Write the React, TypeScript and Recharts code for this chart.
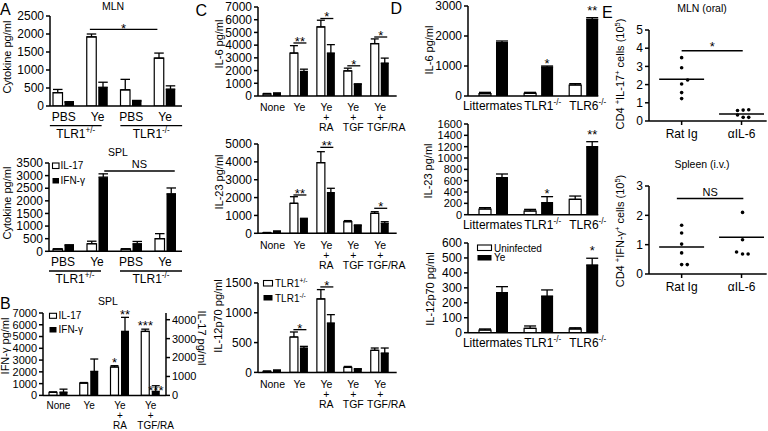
import React from 'react';
import {
  BarChart, Bar, XAxis, YAxis, ErrorBar, ReferenceLine, ReferenceDot,
  ScatterChart, Scatter,
} from 'recharts';

const FONT = '"Liberation Sans", Arial, Helvetica, sans-serif';

// ================= DATA =================
// Panel A – MLN
const aTreatments = ['PBS', 'Ye', 'PBS', 'Ye'];
const aGenotypes = ['TLR1^{+/-}', 'TLR1^{-/-}'];
const aMlnIL17 = [370, 1920, 450, 1330];
const aMlnIL17Err = [90, 80, 290, 140];
const aMlnIFNg = [110, 520, 140, 470];
const aMlnIFNgErr = [10, 140, 15, 90];
const aMlnTicks = [0, 500, 1000, 1500, 2000, 2500];
const aMlnSig = [{ from: [1, 'w'], to: [3, 'w'], y: 2130, text: '*' }];
// Panel A – SPL
const aSplIL17 = [90, 300, 90, 500];
const aSplIL17Err = [10, 100, 10, 200];
const aSplIFNg = [230, 2940, 300, 2280];
const aSplIFNgErr = [30, 130, 90, 230];
const aSplTicks = [0, 500, 1000, 1500, 2000, 2500, 3000, 3500];
const aSplSig = [{ from: [1, 'b'], to: [3, 'b'], y: 3183, text: 'NS' }];

// Panel B – SPL, dual axis
const bTreatments = ['None', 'Ye', 'Ye\n+\nRA', 'Ye\n+\nTGF/RA'];
const bIL17 = [160, 650, 1500, 3380];
const bIL17Err = [25, 30, 70, 120];
const bIFNg = [280, 2040, 5440, 340];
const bIFNgErr = [250, 1050, 1190, 480];
const bIFNgTicks = [0, 1000, 2000, 3000, 4000, 5000, 6000, 7000];
const bIL17Ticks = [0, 1000, 2000, 3000, 4000];
const bStars = [
  { at: [2, 'w'], y: 3033, text: '*' },
  { at: [2, 'b'], y: 7136, text: '**' },
  { at: [3, 'w'], y: 6150, text: '***' },
  { at: [3, 'b'], y: 700, text: '***' },
];

// Panel C – TLR1+/- vs TLR1-/-
const cTreatments = ['None', 'Ye', 'Ye\n+\nRA', 'Ye\n+\nTGF', 'Ye\n+\nTGF/RA'];
const cIL6Het = [160, 3380, 5430, 1980, 4120];
const cIL6HetErr = [40, 580, 530, 210, 370];
const cIL6Ko = [210, 1930, 3380, 920, 2590];
const cIL6KoErr = [30, 180, 660, 40, 390];
const cIL6Ticks = [0, 1000, 2000, 3000, 4000, 5000, 6000, 7000];
const cIL6Sig = [
  { from: [1, 'w'], to: [1, 'b'], y: 4170, text: '**' },
  { from: [2, 'w'], to: [2, 'b'], y: 6095, text: '*' },
  { from: [3, 'w'], to: [3, 'b'], y: 2375, text: '*' },
  { from: [4, 'w'], to: [4, 'b'], y: 4640, text: '*' },
];
const cIL23Het = [37, 1680, 3955, 650, 1120];
const cIL23HetErr = [10, 370, 615, 60, 90];
const cIL23Ko = [112, 800, 2276, 430, 560];
const cIL23KoErr = [15, 40, 244, 40, 90];
const cIL23Ticks = [0, 1000, 2000, 3000, 4000, 5000];
const cIL23Sig = [
  { from: [1, 'w'], to: [1, 'b'], y: 2145, text: '**' },
  { from: [2, 'w'], to: [2, 'b'], y: 4813, text: '**' },
  { from: [4, 'w'], to: [4, 'b'], y: 1400, text: '*' },
];
const cIL12Het = [17, 594, 1232, 84, 370];
const cIL12HetErr = [5, 84, 157, 16, 39];
const cIL12Ko = [34, 409, 829, 56, 325];
const cIL12KoErr = [6, 28, 140, 6, 84];
const cIL12Ticks = [0, 500, 1000, 1500];
const cIL12Sig = [
  { from: [1, 'w'], to: [1, 'b'], y: 717, text: '*' },
  { from: [2, 'w'], to: [2, 'b'], y: 1434, text: '*' },
];

// Panel D – Uninfected vs Ye
const dGroups = ['Littermates', 'TLR1^{-/-}', 'TLR6^{-/-}'];
const dIL6Un = [78, 89, 367];
const dIL6UnErr = [44, 33, 44];
const dIL6Ye = [1778, 967, 2556];
const dIL6YeErr = [55, 33, 55];
const dIL6Ticks = [0, 1000, 2000, 3000];
const dIL6Stars = [{ at: [1, 'b'], y: 1189, text: '*' }, { at: [2, 'b'], y: 2944, text: '**' }];
const dIL23Un = [100, 65, 271];
const dIL23UnErr = [24, 29, 58];
const dIL23Ye = [653, 212, 1200];
const dIL23YeErr = [65, 106, 88];
const dIL23Ticks = [0, 200, 400, 600, 800, 1000, 1200, 1400, 1600];
const dIL23Stars = [{ at: [1, 'b'], y: 424, text: '*' }, { at: [2, 'b'], y: 1465, text: '**' }];
const dIL12Un = [18, 29, 25];
const dIL12UnErr = [7, 16, 8];
const dIL12Ye = [268, 245, 453];
const dIL12YeErr = [40, 41, 45];
const dIL12Ticks = [0, 100, 200, 300, 400, 500, 600];
const dIL12Stars = [{ at: [2, 'b'], y: 571, text: '*' }];

// Panel E – scatter
const eGroups = ['Rat Ig', 'αIL-6'];
const eMlnRatIg = [3.48, 2.93, 2.25, 2.03, 1.56, 1.23];
const eMlnRatIgJitter = [0, 0, 0.1, 0, 0, 0];
const eMlnAnti = [0.58, 0.6, 0.62, 0.33, 0.2, 0.2];
const eMlnAntiJitter = [-0.067, 0.027, 0.12, -0.067, 0.027, 0.12];
const eMlnMedian = [2.29, 0.38];
const eMlnTicks = [0, 1, 2, 3, 4, 5];
const eMlnSig = { from: 0, to: 1.02, y: 3.86, text: '*' };
const eSplRatIg = [1.66, 1.4, 1.02, 0.72, 0.32, 0.32];
const eSplRatIgJitter = [0, 0, 0, 0, 0, 0.094];
const eSplAnti = [2.1, 1.17, 0.75, 0.68, 0.68];
const eSplAntiJitter = [0.017, 0.017, -0.083, 0.017, 0.11];
const eSplMedian = [0.92, 1.25];
const eSplTicks = [0, 1, 2, 3];
const eSplSig = { from: -0.08, to: 1.03, y: 2.57, text: 'NS' };

// ================= LAYOUT / STYLE =================
const YW = 44;
const MT = 22;
const XH = 44;
const AX = { stroke: '#000', strokeWidth: 1.5 };
const tickFont = (size: number) => ({ fill: '#000', fontSize: size, fontFamily: FONT });

function rich(str: string, size: number) {
  const parts = str.split(/(\^\{[^}]*\})/).filter((s) => s.length > 0);
  let raised = false;
  const up = size * 0.4;
  return parts.map((p, i) => {
    if (p.startsWith('^{')) {
      const t = <tspan key={i} dy={raised ? 0 : -up} fontSize={size * 0.68}>{p.slice(2, -1)}</tspan>;
      raised = true;
      return t;
    }
    const t = <tspan key={i} dy={raised ? up : 0}>{p}</tspan>;
    raised = false;
    return t;
  });
}

function annText(cx: number, cy: number, text: string, mode: 'line' | 'center', gap = 4.5) {
  const isStar = text.indexOf('*') >= 0;
  const size = isStar ? 13 : 11;
  let y;
  if (isStar) y = mode === 'line' ? cy - gap + 7.4 : cy + 7.4;
  else y = cy - 3;
  return (
    <text x={cx} y={y} textAnchor="middle" fontSize={size} fontFamily={FONT} fill="#000">{text}</text>
  );
}

function BarPanel(props: any) {
  const {
    geo, categories, white, whiteErr, black, blackErr, yMax, yTicks, barSize, barGap,
    tick, sigs = [], stars = [], right, sigExt = [0, 0], starGap = 4.5, mr = 6, yFont = 12,
  } = props;
  const { axisX, plotRight, plotTop, plotBottom, padL = 0, padR = 0 } = geo;
  const RW = right ? 38 : 0;
  const plotW = plotRight - axisX;
  const width = YW + plotW + RW + mr;
  const height = MT + (plotBottom - plotTop) + XH;
  const n = categories.length;
  const band = (plotW - padL - padR) / n;
  const half = (barSize + barGap) / 2 / band;
  const bx = (g: number, s: string) => g + 0.5 + (s === 'w' ? -half : half);
  const data = categories.map((c: string, i: number) => ({
    cat: c, idx: i + 0.5,
    w: white[i], we: [0, whiteErr[i]],
    b: black[i], be: [0, blackErr[i]],
  }));
  const ann: any[] = [];
  sigs.forEach((s: any, k: number) => {
    const x1 = bx(s.from[0], s.from[1]) + sigExt[0] / band;
    const x2 = bx(s.to[0], s.to[1]) + sigExt[1] / band;
    ann.push(
      <ReferenceLine key={'sl' + k} xAxisId="n" yAxisId="l" segment={[{ x: x1, y: s.y }, { x: x2, y: s.y }]}
        stroke="#000" strokeWidth={1.3} ifOverflow="visible" />
    );
    ann.push(
      <ReferenceDot key={'st' + k} xAxisId="n" yAxisId="l" x={(x1 + x2) / 2} y={s.y} r={0} ifOverflow="visible"
        shape={(pp: any) => annText(pp.cx, pp.cy, s.text, 'line', starGap)} />
    );
  });
  stars.forEach((s: any, k: number) => {
    ann.push(
      <ReferenceDot key={'sd' + k} xAxisId="n" yAxisId="l" x={bx(s.at[0], s.at[1])} y={s.y} r={0} ifOverflow="visible"
        shape={(pp: any) => annText(pp.cx, pp.cy, s.text, 'center')} />
    );
  });
  const capW = barSize / 2;
  return (
    <div style={{ position: 'absolute', left: axisX - YW, top: plotTop - MT, width, height }}>
      <BarChart width={width} height={height} data={data} margin={{ top: MT, right: mr, bottom: 0, left: 0 }}
        barSize={barSize} barGap={barGap}>
        <XAxis xAxisId="c" dataKey="cat" height={XH} padding={{ left: padL, right: padR }} axisLine={AX}
          tickLine={false} tickSize={0} tickMargin={0} interval={0} stroke="#000"
          tick={(p: any) => tick(p, band)} />
        <XAxis xAxisId="n" type="number" dataKey="idx" domain={[0, n]} allowDataOverflow hide
          padding={{ left: padL, right: padR }} />
        <YAxis yAxisId="l" width={YW} domain={[0, yMax]} ticks={yTicks} allowDataOverflow interval={0}
          axisLine={AX} tickLine={AX} tickSize={4} tickMargin={2} tick={tickFont(yFont)} stroke="#000" />
        {right && (
          <YAxis yAxisId="r" orientation="right" width={RW} domain={[0, right.max]} ticks={right.ticks}
            allowDataOverflow interval={0} axisLine={AX} tickLine={AX} tickSize={4} tickMargin={2}
            tick={tickFont(yFont)} stroke="#000" />
        )}
        <Bar xAxisId="c" yAxisId={right ? 'r' : 'l'} dataKey="w" fill="#fff" stroke="#000" strokeWidth={1.2}
          isAnimationActive={false}>
          <ErrorBar dataKey="we" direction="y" width={capW} stroke="#000" strokeWidth={1.3} />
        </Bar>
        <Bar xAxisId="c" yAxisId="l" dataKey="b" fill="#000" isAnimationActive={false}>
          <ErrorBar dataKey="be" direction="y" width={capW} stroke="#000" strokeWidth={1.3} />
        </Bar>
        {ann}
      </BarChart>
    </div>
  );
}

// ---- tick renderers ----
const A_SPANS = [[-14, 4], [-11, 17]];
const groupTick = (p: any, band: number) => {
  const { x, y, index, payload } = p;
  let extra = null;
  if (index % 2 === 0) {
    const g = index / 2;
    const x1 = x + A_SPANS[g][0];
    const x2 = x + band + A_SPANS[g][1];
    extra = (
      <g>
        <line x1={x1} x2={x2} y1={y + 19.7} y2={y + 19.7} stroke="#000" strokeWidth={1.3} />
        <text x={(x1 + x2) / 2} y={y + 32} textAnchor="middle" fontSize={12} fontFamily={FONT} fill="#000">
          {rich(aGenotypes[g], 12)}
        </text>
      </g>
    );
  }
  return (
    <g>
      <text x={x} y={y + 15} textAnchor="middle" fontSize={12} fontFamily={FONT} fill="#000">{payload.value}</text>
      {extra}
    </g>
  );
};
const linesTick = (first: number, lh: number, size: number, longShift: number) => (p: any) => {
  const { x, y, payload } = p;
  const lines = String(payload.value).split('\n');
  return (
    <g>
      {lines.map((ln, k) => (
        <text key={k} x={x + (ln.length > 4 ? longShift : 0)} y={y + first + k * lh} textAnchor="middle"
          fontSize={size} fontFamily={FONT} fill="#000">
          {rich(ln, size)}
        </text>
      ))}
    </g>
  );
};
const D_DX = [-1, 4, 4];

function ScatterPanel(props: any) {
  const { geo, yMax, yTicks, ratIg, ratIgJit, anti, antiJit, medians, sig, starGap = 7 } = props;
  const { axisX, plotRight, plotTop, plotBottom } = geo;
  const EXH = 30;
  const plotW = plotRight - axisX;
  const width = YW + plotW + 1;
  const height = MT + (plotBottom - plotTop) + EXH;
  const ptsA = ratIg.map((v: number, i: number) => ({ x: 0 + ratIgJit[i], y: v }));
  const ptsB = anti.map((v: number, i: number) => ({ x: 1 + antiJit[i], y: v }));
  const dot = (pp: any) => <circle cx={pp.cx} cy={pp.cy} r={1.8} fill="#000" />;
  const HW = 0.375;
  return (
    <div style={{ position: 'absolute', left: axisX - YW, top: plotTop - MT, width, height }}>
      <ScatterChart width={width} height={height} margin={{ top: MT, right: 1, bottom: 0, left: 0 }}>
        <XAxis type="number" dataKey="x" domain={[-0.545, 1.42]} ticks={[0, 1]} allowDataOverflow height={EXH}
          axisLine={AX} tickLine={AX} tickSize={4} tickMargin={0} interval={0} stroke="#000"
          tick={(p: any) => (
            <text x={p.x} y={p.y + 13} textAnchor="middle" fontSize={12} fontFamily={FONT} fill="#000">
              {eGroups[Math.round(p.payload.value)]}
            </text>
          )} />
        <YAxis type="number" dataKey="y" width={YW} domain={[0, yMax]} ticks={yTicks} allowDataOverflow interval={0}
          axisLine={AX} tickLine={AX} tickSize={4} tickMargin={2} tick={tickFont(12)} stroke="#000" />
        <Scatter data={ptsA} shape={dot} isAnimationActive={false} />
        <Scatter data={ptsB} shape={dot} isAnimationActive={false} />
        {medians.map((m: number, g: number) => (
          <ReferenceLine key={'m' + g} segment={[{ x: g - HW, y: m }, { x: g + HW, y: m }]} stroke="#000"
            strokeWidth={1.5} ifOverflow="visible" />
        ))}
        <ReferenceLine segment={[{ x: sig.from, y: sig.y }, { x: sig.to, y: sig.y }]} stroke="#000"
          strokeWidth={1.5} ifOverflow="visible" />
        <ReferenceDot x={(sig.from + sig.to) / 2} y={sig.y} r={0} ifOverflow="visible"
          shape={(pp: any) => annText(pp.cx, pp.cy, sig.text, 'line', starGap)} />
      </ScatterChart>
    </div>
  );
}

const GEO = {
  aMln: { axisX: 50, plotRight: 182, plotTop: 16, plotBottom: 106, padL: -3, padR: 0 },
  aSpl: { axisX: 49, plotRight: 182, plotTop: 162.7, plotBottom: 251, padL: -3, padR: 0 },
  b: { axisX: 43, plotRight: 166, plotTop: 313.3, plotBottom: 395.7 },
  cIL6: { axisX: 258.3, plotRight: 397, plotTop: 7, plotBottom: 96, padL: 1, padR: 3 },
  cIL23: { axisX: 258.3, plotRight: 397, plotTop: 144, plotBottom: 233.3, padL: 1, padR: 3 },
  cIL12: { axisX: 258.3, plotRight: 397, plotTop: 283.3, plotBottom: 372.7, padL: 1, padR: 3 },
  dIL6: { axisX: 467.7, plotRight: 598, plotTop: 5.5, plotBottom: 95.5, padL: 3, padR: -8 },
  dIL23: { axisX: 467.7, plotRight: 598, plotTop: 124, plotBottom: 214.7, padL: 3, padR: -8 },
  dIL12: { axisX: 467.7, plotRight: 598, plotTop: 243, plotBottom: 332.7, padL: 3, padR: -8 },
  eMln: { axisX: 649.3, plotRight: 767, plotTop: 30, plotBottom: 121 },
  eSpl: { axisX: 649.3, plotRight: 767, plotTop: 186.3, plotBottom: 274.3 },
};

const T = (props: any) => <text fontFamily={FONT} fill="#000" {...props} />;
const VLabel = ({ x, y, text, angle = -90, size = 11 }: any) => (
  <text transform={`translate(${x},${y}) rotate(${angle})`} textAnchor="middle" fontSize={size}
    fontFamily={FONT} fill="#000">{rich(text, size)}</text>
);

export default function App() {
  const bTick = linesTick(14, 10, 10, 5);
  const cTick = linesTick(15.5, 10, 10.5, 6);
  const dTick = (p: any) => (
    <text x={p.x + D_DX[p.index]} y={p.y + 14} textAnchor="middle" fontSize={12} fontFamily={FONT} fill="#000">
      {rich(String(p.payload.value), 12)}
    </text>
  );
  return (
    <div style={{ position: 'absolute', left: 0, top: 0, width: 768, height: 431, background: '#fff', overflow: 'hidden' }}>
      {/* A */}
      <BarPanel geo={GEO.aMln} categories={aTreatments} white={aMlnIL17} whiteErr={aMlnIL17Err}
        black={aMlnIFNg} blackErr={aMlnIFNgErr} yMax={2500} yTicks={aMlnTicks} barSize={9.5} barGap={2}
        tick={groupTick} sigs={aMlnSig} sigExt={[-2, -2]} starGap={4} />
      <BarPanel geo={GEO.aSpl} categories={aTreatments} white={aSplIL17} whiteErr={aSplIL17Err}
        black={aSplIFNg} blackErr={aSplIFNgErr} yMax={3500} yTicks={aSplTicks} barSize={9.5} barGap={2}
        tick={groupTick} sigs={aSplSig} sigExt={[1.5, 4]} />
      {/* B */}
      <BarPanel geo={GEO.b} categories={bTreatments} white={bIL17} whiteErr={bIL17Err}
        black={bIFNg} blackErr={bIFNgErr} yMax={7000} yTicks={bIFNgTicks} barSize={8} barGap={2.5}
        tick={bTick} stars={bStars} right={{ max: 4354, ticks: bIL17Ticks }} yFont={11} />
      {/* C */}
      <BarPanel geo={GEO.cIL6} categories={cTreatments} white={cIL6Het} whiteErr={cIL6HetErr}
        black={cIL6Ko} blackErr={cIL6KoErr} yMax={7000} yTicks={cIL6Ticks} barSize={8} barGap={2}
        tick={cTick} sigs={cIL6Sig} sigExt={[-1, 2]} mr={18} />
      <BarPanel geo={GEO.cIL23} categories={cTreatments} white={cIL23Het} whiteErr={cIL23HetErr}
        black={cIL23Ko} blackErr={cIL23KoErr} yMax={5000} yTicks={cIL23Ticks} barSize={8} barGap={2}
        tick={cTick} sigs={cIL23Sig} sigExt={[-1, 2]} mr={18} />
      <BarPanel geo={GEO.cIL12} categories={cTreatments} white={cIL12Het} whiteErr={cIL12HetErr}
        black={cIL12Ko} blackErr={cIL12KoErr} yMax={1500} yTicks={cIL12Ticks} barSize={8} barGap={2}
        tick={cTick} sigs={cIL12Sig} sigExt={[-1, 2]} mr={18} />
      {/* D */}
      <BarPanel geo={GEO.dIL6} categories={dGroups} white={dIL6Un} whiteErr={dIL6UnErr}
        black={dIL6Ye} blackErr={dIL6YeErr} yMax={3000} yTicks={dIL6Ticks} barSize={12} barGap={5}
        tick={dTick} stars={dIL6Stars} mr={18} />
      <BarPanel geo={GEO.dIL23} categories={dGroups} white={dIL23Un} whiteErr={dIL23UnErr}
        black={dIL23Ye} blackErr={dIL23YeErr} yMax={1600} yTicks={dIL23Ticks} barSize={12} barGap={5}
        tick={dTick} stars={dIL23Stars} mr={18} yFont={11} />
      <BarPanel geo={GEO.dIL12} categories={dGroups} white={dIL12Un} whiteErr={dIL12UnErr}
        black={dIL12Ye} blackErr={dIL12YeErr} yMax={600} yTicks={dIL12Ticks} barSize={12} barGap={5}
        tick={dTick} stars={dIL12Stars} mr={18} />
      {/* E */}
      <ScatterPanel geo={GEO.eMln} yMax={5} yTicks={eMlnTicks} ratIg={eMlnRatIg} ratIgJit={eMlnRatIgJitter}
        anti={eMlnAnti} antiJit={eMlnAntiJitter} medians={eMlnMedian} sig={eMlnSig} starGap={7} />
      <ScatterPanel geo={GEO.eSpl} yMax={3} yTicks={eSplTicks} ratIg={eSplRatIg} ratIgJit={eSplRatIgJitter}
        anti={eSplAnti} antiJit={eSplAntiJitter} medians={eSplMedian} sig={eSplSig} />

      {/* text overlay */}
      <svg width={768} height={431} style={{ position: 'absolute', left: 0, top: 0, pointerEvents: 'none' }}>
        <T x={0} y={14.5} fontSize={16}>A</T>
        <T x={0} y={309} fontSize={16}>B</T>
        <T x={195.5} y={16} fontSize={16}>C</T>
        <T x={390.5} y={13.5} fontSize={16}>D</T>
        <T x={602} y={18} fontSize={16}>E</T>

        <T x={113} y={9.5} fontSize={10.5} textAnchor="middle">MLN</T>
        <T x={118} y={155.5} fontSize={10.5} textAnchor="middle">SPL</T>
        <T x={108} y={305} fontSize={10.5} textAnchor="middle">SPL</T>
        <T x={702} y={12} fontSize={10.5} textAnchor="middle">MLN (oral)</T>
        <T x={702} y={168} fontSize={10.5} textAnchor="middle">Spleen (i.v.)</T>

        <VLabel x={10.5} y={57} text="Cytokine pg/ml" />
        <VLabel x={10.5} y={203} text="Cytokine pg/ml" />
        <VLabel x={9} y={346} text="IFN-γ pg/ml" />
        <VLabel x={198} y={338} text="IL-17 pg/ml" angle={90} />
        <VLabel x={223} y={44} text="IL-6 pg/ml" />
        <VLabel x={223} y={182} text="IL-23 pg/ml" />
        <VLabel x={222} y={316} text="IL-12p70 pg/ml" />
        <VLabel x={433} y={50} text="IL-6 pg/ml" />
        <VLabel x={432} y={171} text="IL-23 pg/ml" />
        <VLabel x={434} y={289} text="IL-12p70 pg/ml" />
        <VLabel x={624} y={74} text="CD4 ^{+}IL-17^{+} cells (10^{5})" />
        <VLabel x={624} y={231} text="CD4 ^{+}IFN-γ^{+} cells (10^{5})" />

        {/* legends */}
        <rect x={52.5} y={163} width={6.5} height={5.5} fill="#fff" stroke="#000" strokeWidth={1.1} />
        <T x={60.5} y={169} fontSize={10}>IL-17</T>
        <rect x={52.5} y={178} width={6.5} height={5.5} fill="#000" />
        <T x={60.5} y={184} fontSize={10}>IFN-γ</T>

        <rect x={49.5} y={313.3} width={7} height={5} fill="#fff" stroke="#000" strokeWidth={1.1} />
        <T x={58.5} y={319} fontSize={10}>IL-17</T>
        <rect x={49.5} y={327} width={7} height={5.5} fill="#000" />
        <T x={58.5} y={333} fontSize={10}>IFN-γ</T>

        <rect x={263.5} y={280.5} width={9} height={5.5} fill="#fff" stroke="#000" strokeWidth={1.1} />
        <T x={275} y={287} fontSize={10}>{rich('TLR1^{+/-}', 10)}</T>
        <rect x={263.5} y={295} width={9} height={5.5} fill="#000" />
        <T x={275} y={301.5} fontSize={10}>{rich('TLR1^{-/-}', 10)}</T>

        <rect x={477.5} y={245} width={14} height={5.5} fill="#fff" stroke="#000" strokeWidth={1.1} />
        <T x={494} y={251.5} fontSize={10}>Uninfected</T>
        <rect x={477.5} y={255} width={14} height={5.5} fill="#000" />
        <T x={494} y={261} fontSize={10}>Ye</T>
      </svg>
    </div>
  );
}
